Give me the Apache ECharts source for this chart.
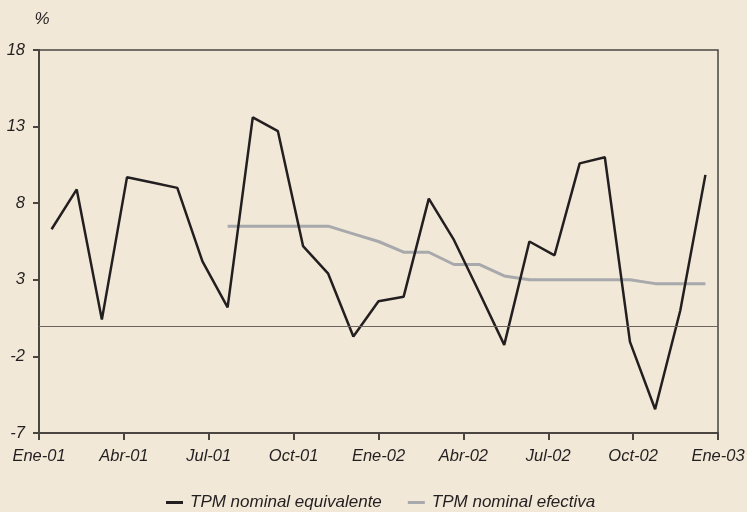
<!DOCTYPE html>
<html>
<head>
<meta charset="utf-8">
<script src="https://cdn.jsdelivr.net/npm/echarts@6/dist/echarts.min.js"></script>
<style>
html,body{margin:0;padding:0;background:#F1E8D7;}
#c{width:747px;height:512px;}
</style>
</head>
<body>
<div id="c"></div>
<script>
// 27 observations between Ene-01 and Ene-03
var equivalente = [6.3, 8.9, 0.4, 9.7, 9.35, 9.0, 4.2, 1.2, 13.6, 12.7, 5.2, 3.4, -0.7, 1.6, 1.9, 8.3, 5.6, 2.2, -1.25, 5.5, 4.6, 10.6, 11.0, -1.05, -5.45, 1.0, 9.85];
var efectiva = [null, null, null, null, null, null, null, 6.5, 6.5, 6.5, 6.5, 6.5, 6.0, 5.5, 4.8, 4.8, 4.0, 4.0, 3.25, 3.0, 3.0, 3.0, 3.0, 3.0, 2.75, 2.75, 2.75];
var xTickLabels = ['Ene-01', 'Abr-01', 'Jul-01', 'Oct-01', 'Ene-02', 'Abr-02', 'Jul-02', 'Oct-02', 'Ene-03'];
var yTicks = [-7, -2, 3, 8, 13, 18];
var seriesNames = ['TPM nominal equivalente', 'TPM nominal efectiva'];

var nPts = equivalente.length;
var step = nPts / (xTickLabels.length - 1);
var xTicks = xTickLabels.map(function (_, k) { return k * step; });
function toPairs(arr) {
  return arr.map(function (v, i) { return [i + 0.5, v]; });
}

var font = '"Liberation Sans", Arial, sans-serif';
var axisColor = '#4a4540';
var chart = echarts.init(document.getElementById('c'));
chart.setOption({
  backgroundColor: '#F1E8D7',
  animation: false,
  grid: {
    left: 39, right: 29, top: 50, bottom: 79, containLabel: false, outerBoundsMode: 'none',
    show: true, borderColor: axisColor, borderWidth: 1.5, backgroundColor: 'transparent'
  },
  legend: {
    left: 161, top: 489, itemWidth: 17, itemHeight: 3, itemGap: 26, icon: 'rect',
    textStyle: { fontFamily: font, fontStyle: 'italic', fontSize: 17, color: '#231F20', padding: [0, 0, 0, 2] },
    data: seriesNames
  },
  xAxis: {
    type: 'value', min: 0, max: nPts,
    axisLine: { onZero: false, lineStyle: { color: axisColor, width: 2 } },
    axisTick: { show: true, length: 7, lineStyle: { color: axisColor, width: 2 }, customValues: xTicks },
    axisLabel: {
      customValues: xTicks, margin: 15,
      fontFamily: font, fontStyle: 'italic', fontSize: 16.5, color: '#231F20',
      formatter: function (v) { return xTickLabels[Math.round(v / step)]; }
    },
    splitLine: { show: false }
  },
  yAxis: {
    type: 'value', min: -7, max: 18,
    name: '%', nameLocation: 'end', nameGap: 22,
    nameTextStyle: { fontFamily: font, fontStyle: 'italic', fontSize: 17, color: '#231F20', padding: [0, 0, 0, 6] },
    axisLine: { show: true, lineStyle: { color: axisColor, width: 2 } },
    axisTick: { show: true, length: 6, lineStyle: { color: axisColor, width: 2 }, customValues: yTicks },
    axisLabel: {
      customValues: yTicks, margin: 14,
      fontFamily: font, fontStyle: 'italic', fontSize: 16.5, color: '#231F20'
    },
    splitLine: { show: false }
  },
  series: [
    {
      name: seriesNames[0], type: 'line', data: toPairs(equivalente),
      symbol: 'none', z: 3,
      lineStyle: { color: '#231F20', width: 2.5 }, itemStyle: { color: '#231F20' },
      markLine: {
        silent: true, symbol: 'none', label: { show: false },
        lineStyle: { color: '#6b655e', width: 1.2, type: 'solid' },
        data: [{ yAxis: 0 }]
      }
    },
    {
      name: seriesNames[1], type: 'line', data: toPairs(efectiva),
      symbol: 'none', z: 2, connectNulls: false,
      lineStyle: { color: '#A8A9AD', width: 3 }, itemStyle: { color: '#A8A9AD' }
    }
  ]
});
</script>
</body>
</html>
